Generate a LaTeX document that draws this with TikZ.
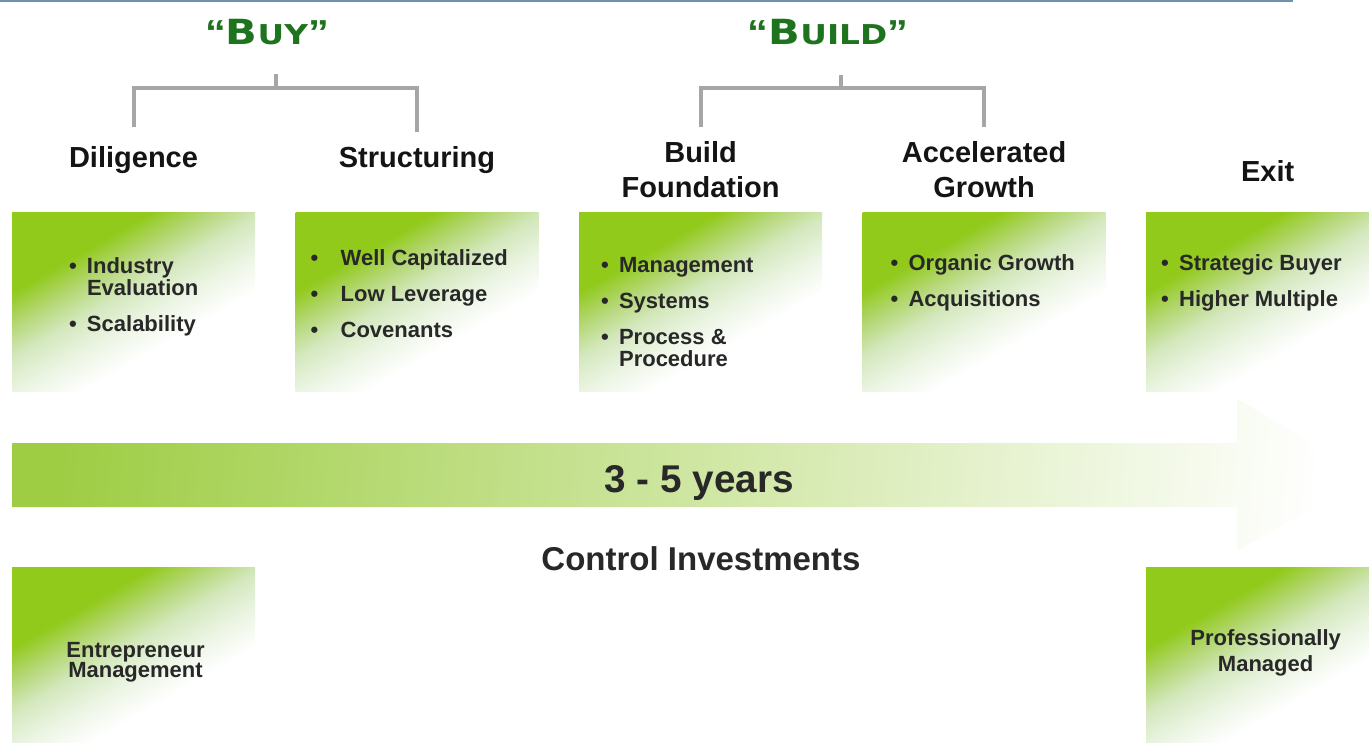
\documentclass[tikz,border=0pt]{standalone}
\usepackage{fontspec}
\setmainfont{Liberation Sans}
\newfontfamily\bannerfont{DejaVu Sans}
\usepackage{tikz}
\usetikzlibrary{positioning}

\definecolor{leafgreen}{RGB}{146,202,28}
\definecolor{leafmid}{RGB}{180,215,116}
\definecolor{mintwash}{RGB}{212,232,190}
\definecolor{washlight}{RGB}{236,245,228}
\definecolor{arrowgreen}{RGB}{158,205,68}
\definecolor{bannergreen}{RGB}{30,116,30}
\definecolor{bracketgray}{RGB}{166,166,166}
\definecolor{rulesteel}{RGB}{112,144,176}
\definecolor{inkgray}{RGB}{40,40,40}

% green corner fading to white
\pgfdeclareverticalshading{stagewash}{100bp}{color(0bp)=(white); color(37bp)=(white);
  color(45bp)=(washlight); color(53bp)=(mintwash); color(60bp)=(leafmid);
  color(67bp)=(leafgreen); color(100bp)=(leafgreen)}

\newcommand{\bulitem}[1][13.5pt]{\makebox[#1][l]{•}}
\newcommand{\bulcont}[1][13.5pt]{\hspace*{#1}}
\newcommand{\bannerword}[2]{\scalebox{1.2}[1]{{\normalfont\bfseries “}#1{\fontsize{20.5}{20.5}\selectfont #2}{\normalfont\bfseries ”}}}

\begin{document}
\begin{tikzpicture}[x=0.75pt, y=-0.75pt, node distance=30pt,
  stagebox/.style={rectangle, inner sep=0pt, minimum width=182.25pt, minimum height=134.25pt,
    shading=stagewash, shading angle=30},
  stagehead/.style={inner sep=0pt, align=center, text=black!92,
    font=\fontsize{21.75}{26.25}\selectfont\bfseries},
  stagelist/.style={inner sep=0pt, align=left, text=inkgray,
    font=\fontsize{16.5}{16.5}\selectfont\bfseries},
  bannertext/.style={inner sep=0pt, anchor=base, text=bannergreen,
    font=\bannerfont\fontsize{26}{26}\selectfont\bfseries},
  bracketline/.style={bracketgray, line width=3pt}]
\useasboundingbox (0,0) rectangle (1369,742);
\clip (0,0) rectangle (1369,742);

\draw[rulesteel, line width=1.2pt] (0,0.8) -- (1293,0.8);

% timeline arrow
\shade[left color=arrowgreen, right color=white, shading angle=85]
  (12,443) -- (1237,443) -- (1237,399) -- (1369,475) -- (1237,551) -- (1237,507) -- (12,507) -- cycle;
\node (Years) [inner sep=0pt, text=inkgray, font=\fontsize{29}{29}\selectfont\bfseries] at (699,483) {3 - 5 years};
\node (Control) [inner sep=0pt, text=inkgray, font=\fontsize{24.75}{24.75}\selectfont\bfseries] at (701,558.5) {Control Investments};

\node (DilBox) [stagebox] at (133.5,301.5) {};
\node (StrBox) [stagebox, right=of DilBox] {};
\node (FndBox) [stagebox, right=of StrBox] {};
\node (AccBox) [stagebox, right=of FndBox] {};
\node (ExitBox) [stagebox, right=of AccBox] {};
\node (EntBox) [stagebox, below=132pt of DilBox] {};
\node (ProBox) [stagebox, below=132pt of ExitBox] {};

\node (Dil) [stagehead, above=28.5pt of DilBox] {Diligence};
\node (Str) [stagehead, above=28.5pt of StrBox] {Structuring};
\node (Fnd) [stagehead, above=10.5pt of FndBox] {Build\\Foundation};
\node (Acc) [stagehead, above=10.5pt of AccBox] {Accelerated\\Growth};
\node (Exit) [stagehead, above=22.5pt of ExitBox] {Exit};

\node (DilList) [stagelist, below right=34.5pt and 42.75pt of DilBox.north west]
  {\bulitem Industry\\\bulcont Evaluation\\[10.5pt]\bulitem Scalability};
\node (StrList) [stagelist, below right=28.5pt and 11.25pt of StrBox.north west]
  {\bulitem[18pt] Well Capitalized\\[10.5pt]\bulitem[18pt] Low Leverage\\[10.5pt]\bulitem[18pt] Covenants};
\node (FndList) [stagelist, below right=33.75pt and 16.5pt of FndBox.north west]
  {\bulitem Management\\[10.5pt]\bulitem Systems\\[10.5pt]\bulitem Process \&\\\bulcont Procedure};
\node (AccList) [stagelist, below right=32.25pt and 21pt of AccBox.north west]
  {\bulitem Organic Growth\\[10.5pt]\bulitem Acquisitions};
\node (ExitList) [stagelist, below right=32.25pt and 11.25pt of ExitBox.north west]
  {\bulitem Strategic Buyer\\[10.5pt]\bulitem Higher Multiple};

\node (EntText) [stagelist, align=center, font=\fontsize{16.5}{15}\selectfont\bfseries,
  below=56.25pt of EntBox.north, xshift=1.5pt] {Entrepreneur\\Management};
\node (ProText) [stagelist, align=center, font=\fontsize{16.5}{19.5}\selectfont\bfseries,
  below=46.5pt of ProBox.north, xshift=-1.5pt] {Professionally\\Managed};

\node (Buy) [bannertext] at (267,45) {\bannerword{B}{UY}};
\node (Build) [bannertext] at (828,45) {\bannerword{B}{UILD}};

\coordinate (BuyJoint) at (276,88);
\coordinate (BuildJoint) at (841,88);
\draw[bracketline] (Dil.north |- 0,127) |- (BuyJoint) -| (Str.north |- 0,132);
\draw[bracketline] (BuyJoint) -- ++(0,-14);
\draw[bracketline] (Fnd.north |- 0,127) |- (BuildJoint) -| (Acc.north |- 0,127);
\draw[bracketline] (BuildJoint) -- ++(0,-13);
\end{tikzpicture}
\end{document}
